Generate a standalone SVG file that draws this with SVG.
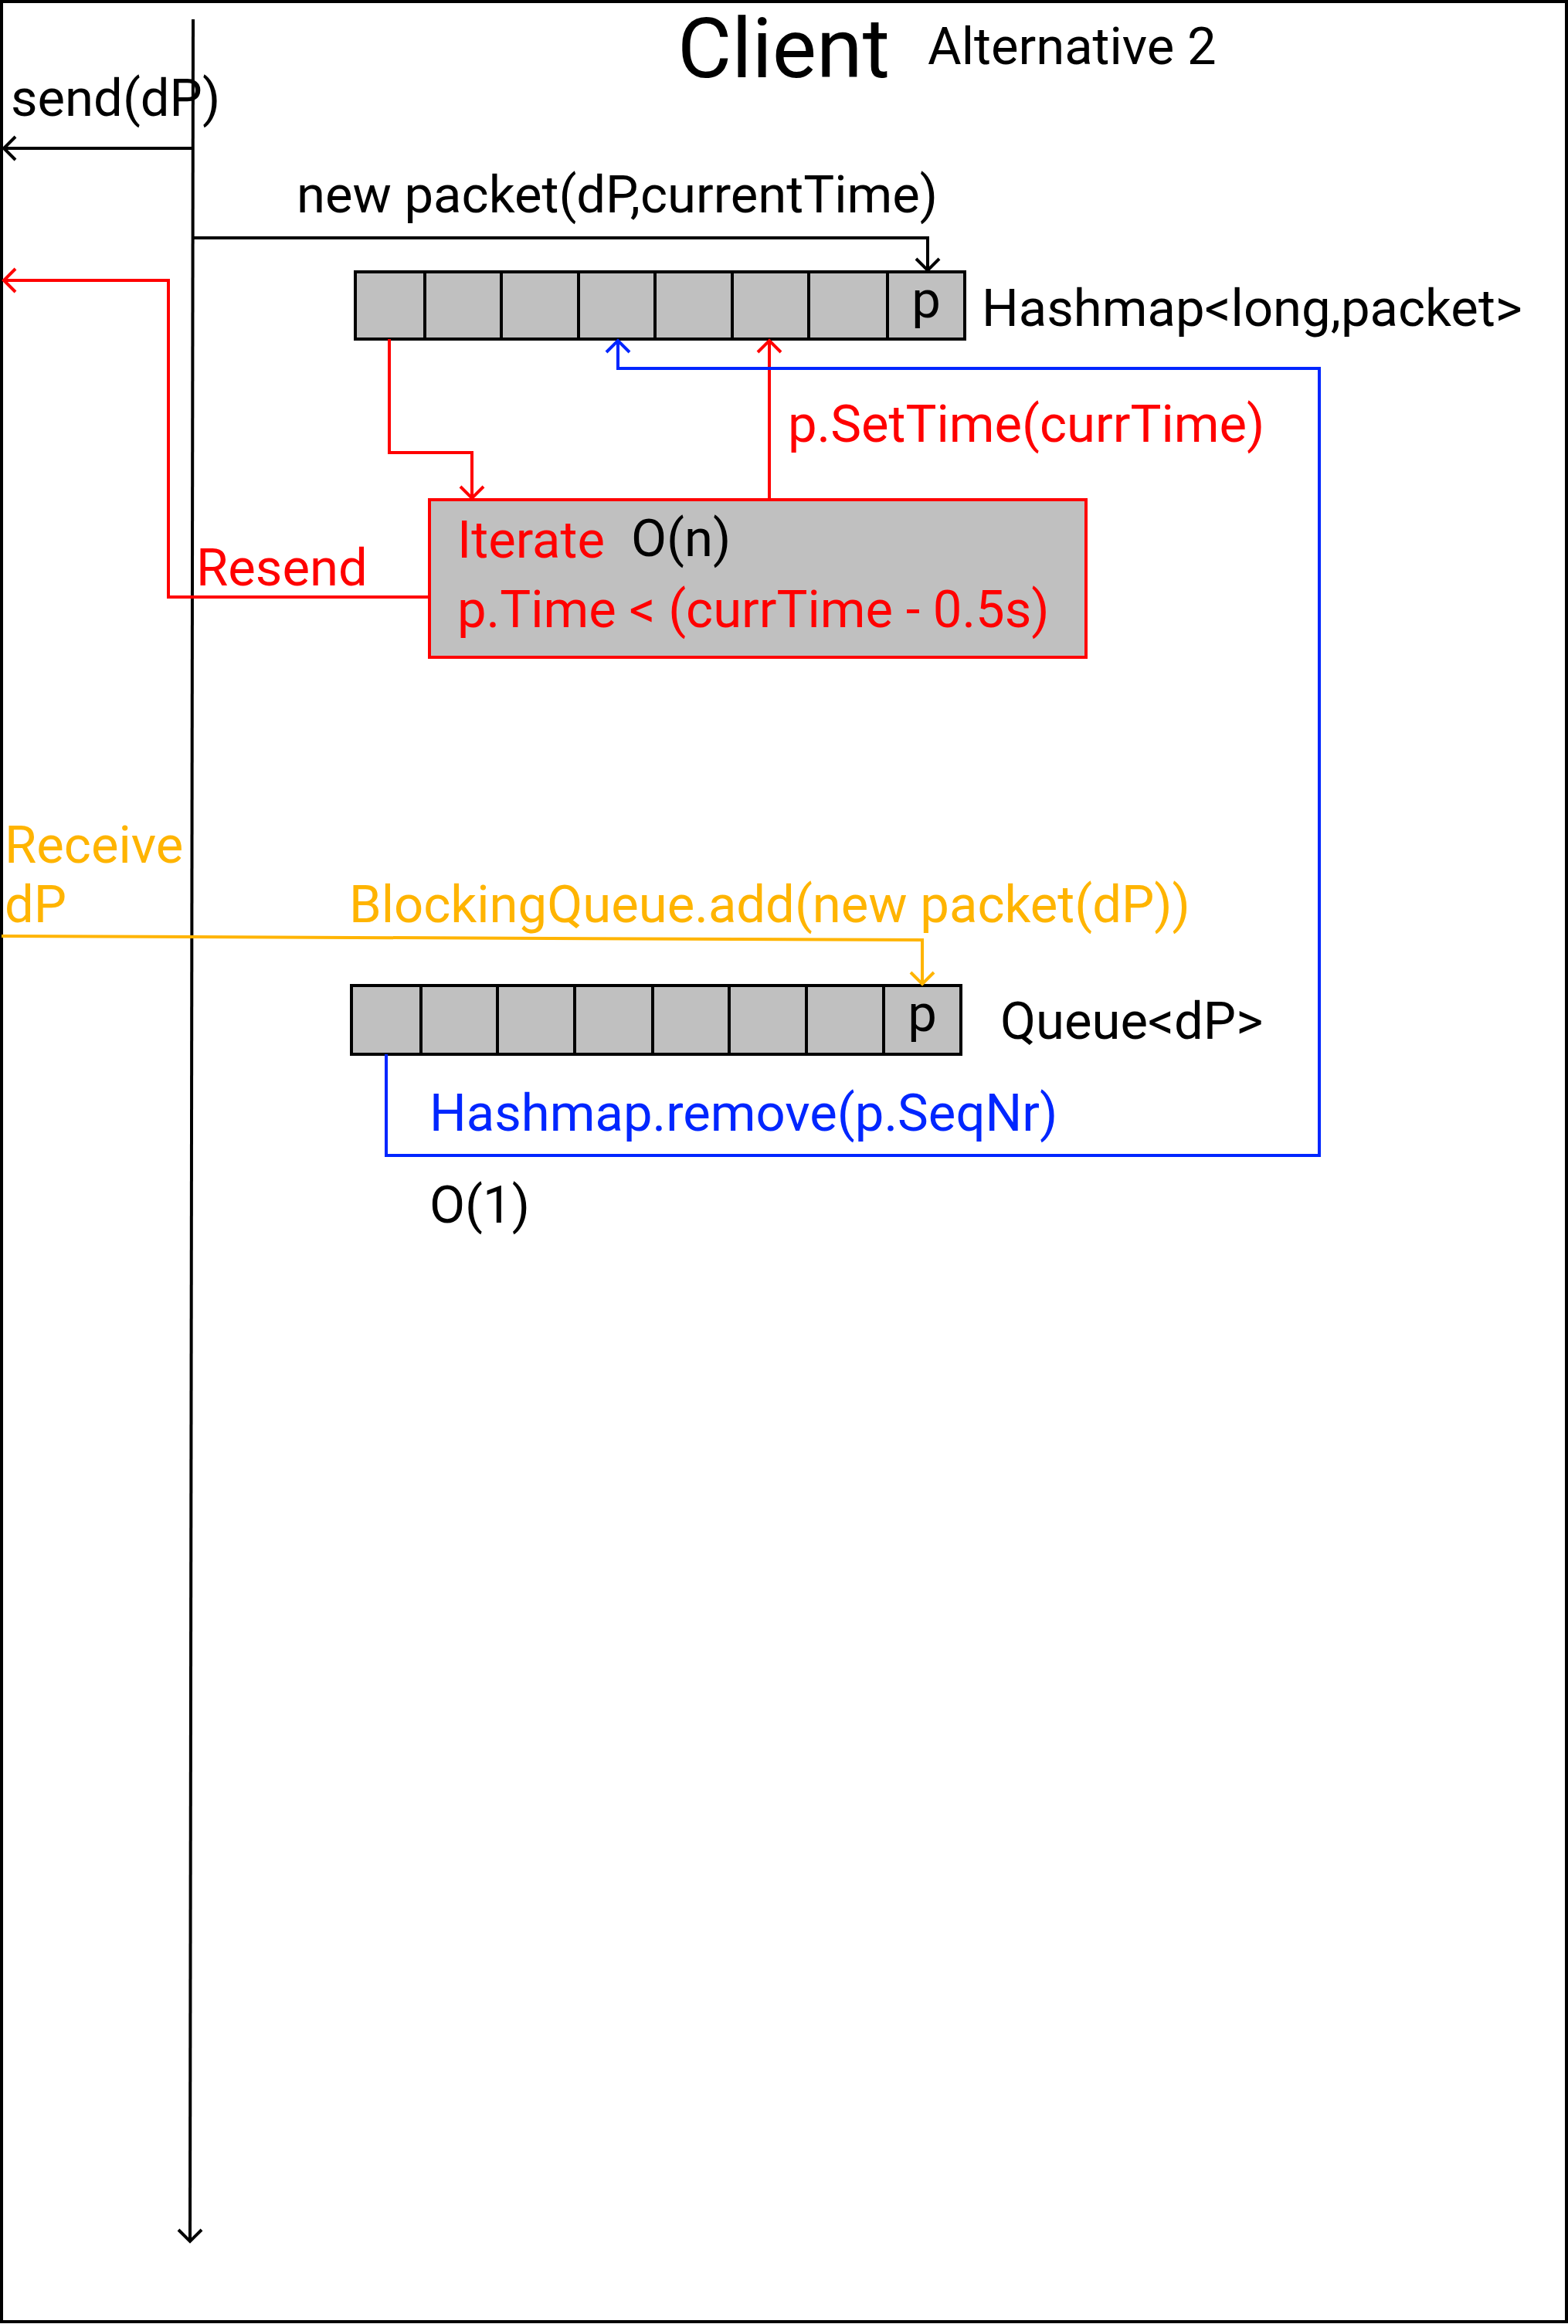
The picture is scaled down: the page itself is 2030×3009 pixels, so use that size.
<svg xmlns="http://www.w3.org/2000/svg" width="2030" height="3009" viewBox="0 0 2030 3009">
<style>
text{font-family:Roboto,"Liberation Sans",sans-serif;font-size:67px;fill:#000}
.red{fill:#ff0000}.yel{fill:#ffb400}.blu{fill:#0026ff}
.cell{fill:#c0c0c0;stroke:#000;stroke-width:4}
.ln{fill:none;stroke-width:4}
.k{stroke:#000}.r{stroke:#ff0000}.y{stroke:#ffb400}.b{stroke:#0026ff}
</style>
<defs>
<marker id="ak" markerUnits="userSpaceOnUse" markerWidth="40" markerHeight="40" refX="20" refY="20" orient="auto" viewBox="0 0 40 40"><path d="M5,5 L20,20 L5,35" fill="none" stroke="#000" stroke-width="4"/></marker>
<marker id="ar" markerUnits="userSpaceOnUse" markerWidth="40" markerHeight="40" refX="20" refY="20" orient="auto" viewBox="0 0 40 40"><path d="M5,5 L20,20 L5,35" fill="none" stroke="#ff0000" stroke-width="4"/></marker>
<marker id="ay" markerUnits="userSpaceOnUse" markerWidth="40" markerHeight="40" refX="20" refY="20" orient="auto" viewBox="0 0 40 40"><path d="M5,5 L20,20 L5,35" fill="none" stroke="#ffb400" stroke-width="4"/></marker>
<marker id="ab" markerUnits="userSpaceOnUse" markerWidth="40" markerHeight="40" refX="20" refY="20" orient="auto" viewBox="0 0 40 40"><path d="M5,5 L20,20 L5,35" fill="none" stroke="#0026ff" stroke-width="4"/></marker>
</defs>
<rect x="2" y="2" width="2026" height="3004" fill="#fff" stroke="#000" stroke-width="4"/>
<g id="title">
<text x="877" y="100" style="font-size:108px">Client</text>
<text x="1201" y="83">Alternative 2</text>
</g>
<g id="hashmap">
<rect class="cell" x="460" y="352" width="90" height="87"/>
<rect class="cell" x="550" y="352" width="99" height="87"/>
<rect class="cell" x="649" y="352" width="100" height="87"/>
<rect class="cell" x="749" y="352" width="99" height="87"/>
<rect class="cell" x="848" y="352" width="100" height="87"/>
<rect class="cell" x="948" y="352" width="99" height="87"/>
<rect class="cell" x="1047" y="352" width="102" height="87"/>
<rect class="cell" x="1149" y="352" width="100" height="87"/>
<text x="1199" y="411" text-anchor="middle">p</text>
<text x="1271" y="422">Hashmap&lt;long,packet&gt;</text>
</g>
<g id="iterate">
<rect x="556" y="647" width="850" height="204" fill="#c0c0c0" stroke="#ff0000" stroke-width="4"/>
<text x="592" y="722" class="red">Iterate</text>
<text x="817" y="720">O(n)</text>
<text x="592" y="812" class="red">p.Time &lt; (currTime - 0.5s)</text>
</g>
<g id="queue">
<rect class="cell" x="455" y="1276" width="90" height="89"/>
<rect class="cell" x="545" y="1276" width="99" height="89"/>
<rect class="cell" x="644" y="1276" width="100" height="89"/>
<rect class="cell" x="744" y="1276" width="101" height="89"/>
<rect class="cell" x="845" y="1276" width="99" height="89"/>
<rect class="cell" x="944" y="1276" width="100" height="89"/>
<rect class="cell" x="1044" y="1276" width="100" height="89"/>
<rect class="cell" x="1144" y="1276" width="100" height="89"/>
<text x="1194" y="1335" text-anchor="middle">p</text>
<text x="1295" y="1345">Queue&lt;dP&gt;</text>
</g>
<g id="connectors">
<line class="ln k" x1="250" y1="25" x2="246" y2="2902" marker-end="url(#ak)"/>
<line class="ln k" x1="249" y1="192" x2="5" y2="192" marker-end="url(#ak)"/>
<polyline class="ln k" points="249,308 1201,308 1201,350" marker-end="url(#ak)"/>
<polyline class="ln r" points="504,439 504,586 611,586 611,645" marker-end="url(#ar)"/>
<line class="ln r" x1="996" y1="647" x2="996" y2="441" marker-end="url(#ar)"/>
<polyline class="ln r" points="556,773 218,773 218,363 5,363" marker-end="url(#ar)"/>
<polyline class="ln b" points="500,1365 500,1496 1708,1496 1708,477 800,477 800,441" marker-end="url(#ab)"/>
<polyline class="ln y" points="2,1212 1194,1217 1194,1274" marker-end="url(#ay)"/>
</g>
<g id="labels">
<text x="14" y="150">send(dP)</text>
<text x="384" y="275">new packet(dP,currentTime)</text>
<text x="1020" y="572" class="red">p.SetTime(currTime)</text>
<text x="254" y="758" class="red">Resend</text>
<text x="6" y="1117" class="yel">Receive</text>
<text x="6" y="1194" class="yel">dP</text>
<text x="452" y="1194" class="yel">BlockingQueue.add(new packet(dP))</text>
<text x="556" y="1464" class="blu">Hashmap.remove(p.SeqNr)</text>
<text x="556" y="1583">O(1)</text>
</g>
</svg>
